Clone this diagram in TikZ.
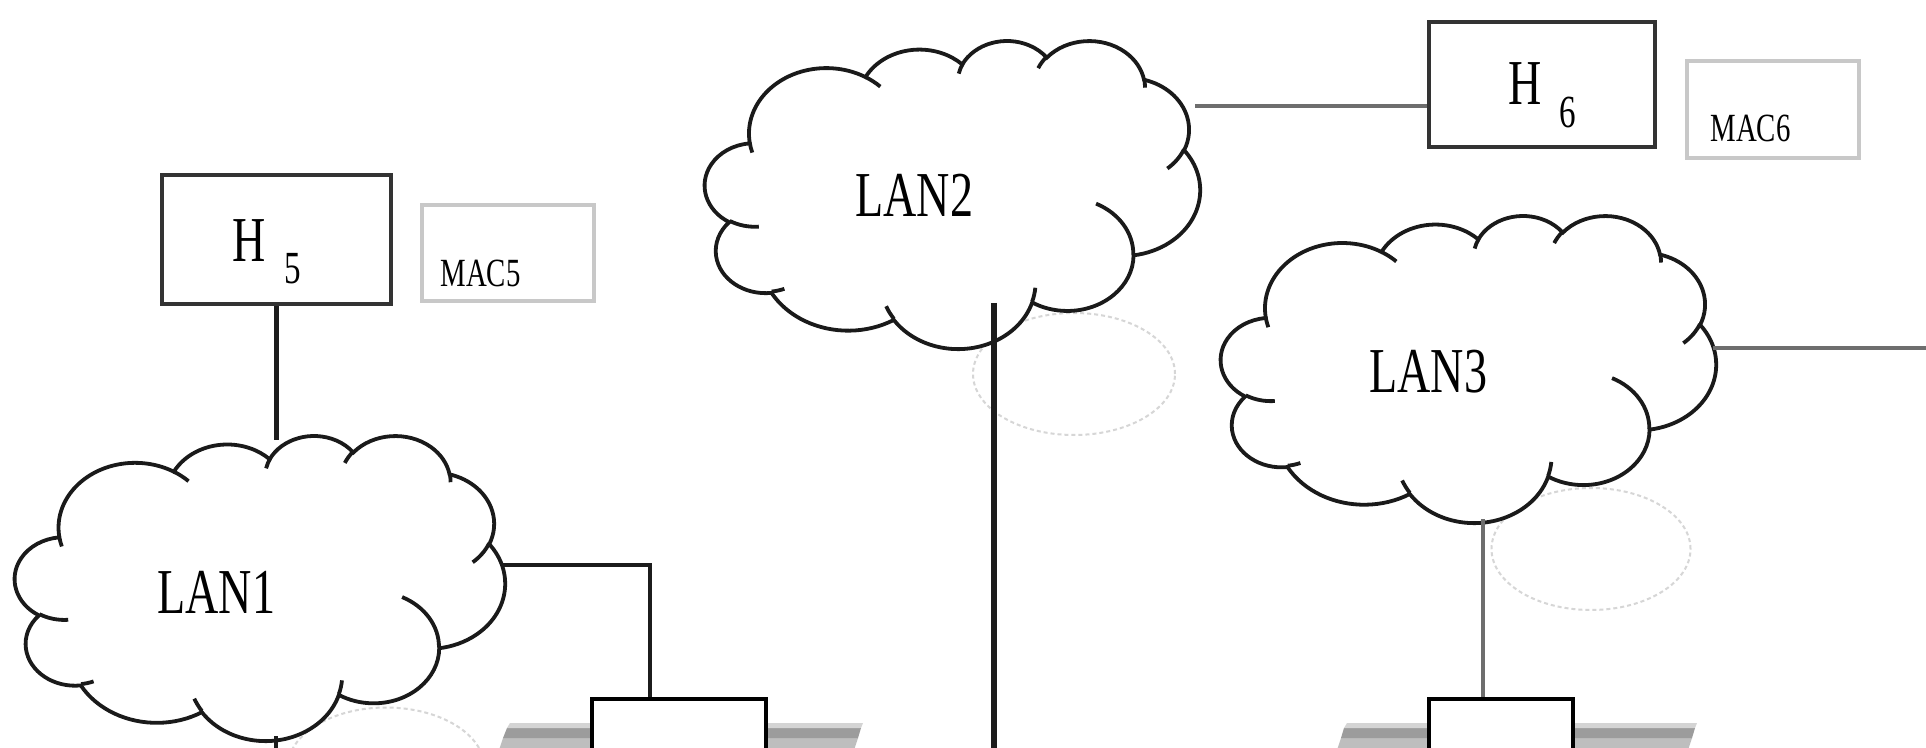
\documentclass[tikz,border=0pt]{standalone}
\usepackage{fontspec}
\setmainfont{Liberation Serif}[FakeStretch=0.72]
\definecolor{cloudline}{HTML}{1A1A1A}
\definecolor{hostline}{HTML}{333333}
\definecolor{macline}{HTML}{C8C8C8}
\definecolor{linkdark}{HTML}{1C1C1C}
\definecolor{linkgray}{HTML}{6E6E6E}
\definecolor{faintgray}{HTML}{D6D6D6}
\definecolor{slablight}{HTML}{D4D4D4}
\definecolor{slabdark}{HTML}{9C9C9C}
\definecolor{slabmid}{HTML}{BEBEBE}
% ---- Office-style cloud drawn with pgf (pixel coordinates, y downwards)
\newcommand\cldsetup[4]{\def\cldX{#1}\def\cldY{#2}\def\cldW{#3}\def\cldH{#4}}
\newcommand\cldmove[2]{%
  \pgfmathsetmacro\cmx{\cldX+#1/432*\cldW}%
  \pgfmathsetmacro\cmy{\cldY+#2/432*\cldH}%
  \pgfpathmoveto{\pgfpointxy{\cmx}{\cmy}}}
\newcommand\cldarc[4]{%
  \pgfmathsetmacro\cra{#1/432*\cldW}%
  \pgfmathsetmacro\crb{#2/432*\cldH}%
  \pgfmathsetmacro\cta{atan2(#1*sin(#3),#2*cos(#3))}%
  \pgfmathsetmacro\ctb{atan2(#1*sin(#3+#4),#2*cos(#3+#4))}%
  \pgfmathsetmacro\ctd{mod(\ctb-\cta+720,360)}%
  \pgfmathsetmacro\cte{\cta+\ctd}%
  \pgfpatharcaxes{\cta}{\cte}{\pgfpointxy{\cra}{0}}{\pgfpointxy{0}{\crb}}}
\newcommand\drawcloud[4]{%
  \cldsetup{#1}{#2}{#3}{#4}%
  \begin{pgfscope}
    \pgfsetlinewidth{1.9pt}%
    \pgfsetstrokecolor{cloudline}%
    \pgfsetfillcolor{white}%
    \cldmove{39.00}{143.70}%
    \cldarc{67.53}{91.90}{-190.4875}{123.78053}%
    \cldarc{53.33}{72.67}{-144.10238}{89.94523}%
    \cldarc{43.65}{59.45}{-145.80792}{99.72302}%
    \cldarc{48.57}{65.95}{-130.98607}{117.24173}%
    \cldarc{53.33}{72.73}{-78.70888}{109.02692}%
    \cldarc{67.75}{92.20}{-46.26725}{130.269}%
    \cldarc{57.85}{78.67}{0.62502}{114.03333}%
    \cldarc{67.52}{92.15}{22.4516}{115.17255}%
    \cldarc{77.20}{105.43}{66.24263}{75.71102}%
    \cldarc{43.60}{59.18}{-274.94208}{146.73557}%
    \cldarc{43.45}{59.45}{-246.8285}{152.51885}%
    \pgfpathclose
    \pgfusepath{fill,stroke}%
    \cldmove{46.93}{261.77}\cldarc{43.45}{59.45}{86.742}{26.4295}%
    \cldmove{69.28}{348.99}\cldarc{43.60}{59.18}{73.6105}{11.4475}%
    \cldmove{164.78}{390.90}\cldarc{67.52}{92.15}{137.6242}{14.0811}%
    \cldmove{288.27}{347.51}\cldarc{67.52}{92.15}{6.4533}{15.9984}%
    \cldmove{341.29}{229.54}\cldarc{57.85}{78.67}{-70.2924}{70.9174}%
    \cldmove{417.98}{153.54}\cldarc{53.33}{72.73}{30.3180}{27.7515}%
    \cldmove{383.24}{54.26}\cldarc{48.57}{65.95}{-13.7443}{14.8589}%
    \cldmove{290.78}{39.52}\cldarc{48.57}{65.95}{-149.1815}{18.1954}%
    \cldmove{221.41}{47.20}\cldarc{43.65}{59.45}{-163.4943}{17.8360}%
    \cldmove{140.00}{51.92}\cldarc{67.53}{91.90}{-66.7070}{12.3194}%
    \cldmove{41.27}{157.89}\cldarc{67.53}{91.90}{157.6544}{11.8582}%
    \pgfusepath{stroke}%
  \end{pgfscope}}
\tikzset{
  lanlabel/.style={font=\fontsize{32}{36}\selectfont, anchor=base west, inner sep=0pt},
  bigletter/.style={font=\fontsize{32}{36}\selectfont, anchor=base west, inner sep=0pt},
  subdigit/.style={font=\fontsize{23}{26}\selectfont, anchor=base west, inner sep=0pt},
  smalltext/.style={font=\fontsize{20}{24}\selectfont, anchor=base west, inner sep=0pt},
  hostbox/.style={draw=hostline, line width=2.2pt, fill=white, inner sep=0pt},
  macbox/.style={draw=macline, line width=2pt, fill=white, inner sep=0pt},
  bridgebox/.style={draw=black, line width=2.2pt, fill=white, inner sep=0pt},
  cloudarea/.style={inner sep=0pt, draw=none},
  darklink/.style={draw=linkdark, line width=2.4pt},
  graylink/.style={draw=linkgray, line width=2pt},
  faint/.style={draw=faintgray, line width=1pt, dash pattern=on 2pt off 1.5pt},
}
\begin{document}
\begin{tikzpicture}[x=0.5pt,y=-0.5pt]
\clip (0,0) rectangle (1926,748);
\fill[white] (0,0) rectangle (1926,748);

% faint ellipses (behind the clouds)
\draw[faint] (386,768) ellipse [x radius=49.25pt, y radius=30.25pt];
\draw[faint] (1074,374) ellipse [x radius=50.5pt, y radius=30.5pt];
\draw[faint] (1591,549) ellipse [x radius=49.75pt, y radius=30.5pt];

% clouds
\drawcloud{15}{435}{490}{305}
\drawcloud{705}{40}{495}{308}
\drawcloud{1221}{215}{495}{307}
\node[cloudarea, minimum width=245pt, minimum height=152.5pt] (lan1) at (260,587.5) {};
\node[cloudarea, minimum width=247.5pt, minimum height=154pt] (lan2) at (952.5,194) {};
\node[cloudarea, minimum width=247.5pt, minimum height=153.5pt] (lan3) at (1468.5,368.5) {};
\node[lanlabel] (lan1t) at (157,613) {LAN1};
\node[lanlabel] (lan2t) at (855,217) {LAN2};
\node[lanlabel] (lan3t) at (1369,393) {LAN3};

% attach points on the clouds
\coordinate (l1top) at (276,440);
\coordinate (l1right) at (502,565);
\coordinate (l1bot) at (276,736);
\coordinate (l2in) at (994,303);
\coordinate (l2right) at (1195,106);
\coordinate (l3right) at (1713,348);
\coordinate (l3bot) at (1483,519);
\coordinate (edgeR) at (1930,348);
\coordinate (edgeB1) at (276,760);
\coordinate (edgeB2) at (994,760);

% bridge slabs
\fill[slabmid] (503,738) -- (858,738) -- (854,750) -- (499,750) -- cycle;
\fill[slabdark] (507,728) -- (861,728) -- (858,738) -- (503,738) -- cycle;
\fill[slablight] (510,723) -- (863,723) -- (861,728) -- (507,728) -- cycle;
\fill[slabmid] (1341,738) -- (1692,738) -- (1688,750) -- (1337,750) -- cycle;
\fill[slabdark] (1344,728) -- (1695,728) -- (1692,738) -- (1341,738) -- cycle;
\fill[slablight] (1347,723) -- (1697,723) -- (1695,728) -- (1344,728) -- cycle;

% boxes
\node[hostbox, minimum width=114.5pt, minimum height=64.5pt] (h5) at (276.5,239.5) {};
\node[macbox, minimum width=86pt, minimum height=48pt] (mac5) at (508,253) {};
\node[hostbox, minimum width=113pt, minimum height=62.5pt] (h6) at (1542,84.5) {};
\node[macbox, minimum width=86pt, minimum height=48.5pt] (mac6) at (1773,109.5) {};
\node[bridgebox, minimum width=87pt, minimum height=50.5pt] (b1) at (679,749.5) {};
\node[bridgebox, minimum width=72pt, minimum height=50.5pt] (b2) at (1501,749.5) {};

% labels
\node[bigletter] (h5t) at (232,262) {H};
\node[subdigit] (h5s) at (284,284) {5};
\node[bigletter] (h6t) at (1508,105) {H};
\node[subdigit] (h6s) at (1559,128) {6};
\node[smalltext] (mac5t) at (440,287) {MAC5};
\node[smalltext] (mac6t) at (1710,142) {MAC6};

% connectors
\draw[darklink] (h5.south) -- (h5.south |- l1top);
\draw[darklink] (l1right) -| ([xshift=-14.5pt]b1.north);
\draw[darklink] (l1bot) -- (edgeB1);
\draw[darklink, line width=2.9pt] (l2in) -- (edgeB2);
\draw[graylink] (l2right) -- (l2right -| h6.west);
\draw[graylink] (l3right) -- (edgeR);
\draw[graylink] (l3bot) -- ([xshift=-9pt]b2.north);
\end{tikzpicture}
\end{document}
